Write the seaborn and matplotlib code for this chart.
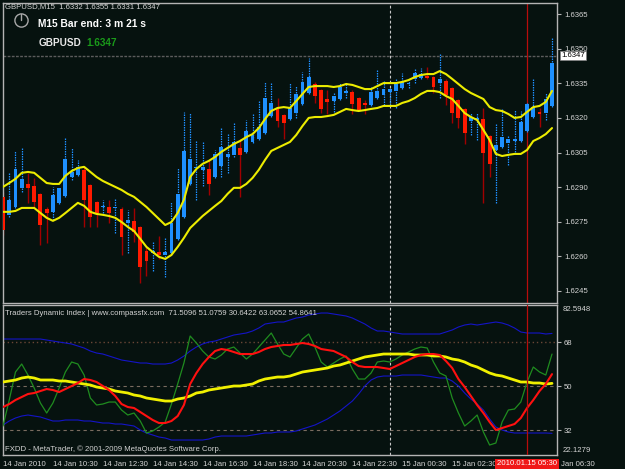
import numpy as np
import pandas as pd
import matplotlib
matplotlib.use("Agg")
import matplotlib.pyplot as plt
import matplotlib.transforms as mtransforms
from matplotlib.lines import Line2D
import seaborn as sns

# ---------------- data ----------------
opens = [1.62858, 1.62780, 1.62814, 1.62897, 1.62914, 1.62905, 1.62871, 1.62806, 1.62793, 1.62832,
         1.62862, 1.62944, 1.62953, 1.62975, 1.62910, 1.62836, 1.62812, 1.62814, 1.62808, 1.62806,
         1.62745, 1.62754, 1.62728, 1.62624, 1.62615, 1.62619, 1.62606, 1.62615, 1.62676, 1.62771,
         1.62914, 1.62981, 1.62975, 1.62979, 1.62944, 1.62992, 1.63031, 1.63040, 1.63070, 1.63053,
         1.63096, 1.63109, 1.63135, 1.63208, 1.63239, 1.63213, 1.63195, 1.63221, 1.63260, 1.63308,
         1.63347, 1.63321, 1.63282, 1.63273, 1.63282, 1.63308, 1.63312, 1.63286, 1.63265, 1.63256,
         1.63286, 1.63299, 1.63312, 1.63317, 1.63330, 1.63347, 1.63369, 1.63373, 1.63382, 1.63377,
         1.63351, 1.63360, 1.63330, 1.63278, 1.63239, 1.63187, 1.63191, 1.63195, 1.63122, 1.63061,
         1.63074, 1.63092, 1.63100, 1.63100, 1.63143, 1.63204, 1.63226, 1.63221, 1.63252]
highs = [1.62879, 1.62966, 1.63057, 1.63070, 1.62962, 1.62940, 1.62875, 1.62814, 1.62901, 1.62901,
         1.63117, 1.63070, 1.63018, 1.62988, 1.62914, 1.62840, 1.62845, 1.62845, 1.62853, 1.62814,
         1.62801, 1.62810, 1.62732, 1.62641, 1.62663, 1.62689, 1.62680, 1.62836, 1.62983, 1.63226,
         1.63221, 1.63104, 1.63096, 1.63018, 1.63061, 1.63156, 1.63135, 1.63178, 1.63109, 1.63191,
         1.63221, 1.63278, 1.63356, 1.63351, 1.63286, 1.63217, 1.63351, 1.63338, 1.63399, 1.63460,
         1.63356, 1.63325, 1.63321, 1.63312, 1.63351, 1.63351, 1.63321, 1.63291, 1.63278, 1.63334,
         1.63408, 1.63364, 1.63330, 1.63373, 1.63395, 1.63364, 1.63416, 1.63416, 1.63421, 1.63382,
         1.63481, 1.63369, 1.63334, 1.63282, 1.63243, 1.63221, 1.63221, 1.63243, 1.63126, 1.63178,
         1.63243, 1.63126, 1.63234, 1.63230, 1.63265, 1.63369, 1.63243, 1.63308, 1.63546]
lows = [1.62693, 1.62771, 1.62810, 1.62879, 1.62832, 1.62814, 1.62650, 1.62658, 1.62758, 1.62827,
        1.62858, 1.62931, 1.62949, 1.62728, 1.62728, 1.62728, 1.62788, 1.62745, 1.62702, 1.62606,
        1.62615, 1.62663, 1.62485, 1.62515, 1.62537, 1.62589, 1.62511, 1.62611, 1.62671, 1.62767,
        1.62910, 1.62845, 1.62905, 1.62866, 1.62940, 1.62944, 1.62962, 1.63031, 1.62858, 1.63048,
        1.63092, 1.63104, 1.63130, 1.63204, 1.63161, 1.63109, 1.63191, 1.63200, 1.63256, 1.63304,
        1.63265, 1.63221, 1.63217, 1.63226, 1.63278, 1.63286, 1.63217, 1.63230, 1.63217, 1.63252,
        1.63282, 1.63256, 1.63256, 1.63243, 1.63325, 1.63330, 1.63351, 1.63369, 1.63369, 1.63308,
        1.63286, 1.63256, 1.63178, 1.63156, 1.63087, 1.63126, 1.63104, 1.62832, 1.62944, 1.62832,
        1.63070, 1.62996, 1.63053, 1.63096, 1.63139, 1.63200, 1.63161, 1.63191, 1.63247]
closes = [1.62715, 1.62845, 1.62979, 1.62936, 1.62897, 1.62836, 1.62736, 1.62788, 1.62866, 1.62897,
          1.63022, 1.62966, 1.62988, 1.62845, 1.62771, 1.62788, 1.62819, 1.62788, 1.62812, 1.62684,
          1.62758, 1.62706, 1.62554, 1.62580, 1.62624, 1.62606, 1.62619, 1.62745, 1.62871, 1.63057,
          1.63022, 1.62988, 1.62988, 1.62914, 1.63044, 1.63074, 1.63044, 1.63096, 1.63040, 1.63143,
          1.63126, 1.63161, 1.63286, 1.63265, 1.63187, 1.63178, 1.63243, 1.63304, 1.63356, 1.63377,
          1.63295, 1.63239, 1.63269, 1.63295, 1.63334, 1.63317, 1.63260, 1.63234, 1.63258, 1.63312,
          1.63317, 1.63325, 1.63325, 1.63347, 1.63356, 1.63351, 1.63395, 1.63390, 1.63373, 1.63334,
          1.63369, 1.63299, 1.63221, 1.63200, 1.63135, 1.63204, 1.63200, 1.63048, 1.63001, 1.63083,
          1.63117, 1.63109, 1.63109, 1.63182, 1.63260, 1.63247, 1.63219, 1.63282, 1.63438]
band_upper = [1.62901, 1.62918, 1.62936, 1.62962, 1.62966, 1.62962, 1.62940, 1.62918, 1.62914, 1.62914,
              1.62949, 1.62970, 1.62983, 1.62988, 1.62966, 1.62944, 1.62927, 1.62914, 1.62901, 1.62888,
              1.62871, 1.62858, 1.62836, 1.62814, 1.62788, 1.62762, 1.62736, 1.62749, 1.62788, 1.62845,
              1.62944, 1.62979, 1.63001, 1.63014, 1.63031, 1.63053, 1.63070, 1.63087, 1.63100, 1.63117,
              1.63130, 1.63156, 1.63195, 1.63230, 1.63243, 1.63247, 1.63243, 1.63273, 1.63304, 1.63334,
              1.63338, 1.63338, 1.63338, 1.63334, 1.63338, 1.63347, 1.63343, 1.63334, 1.63325, 1.63325,
              1.63338, 1.63351, 1.63351, 1.63351, 1.63356, 1.63364, 1.63377, 1.63386, 1.63390, 1.63390,
              1.63403, 1.63390, 1.63369, 1.63347, 1.63325, 1.63308, 1.63295, 1.63282, 1.63247, 1.63234,
              1.63230, 1.63217, 1.63200, 1.63204, 1.63226, 1.63247, 1.63252, 1.63269, 1.63317]
band_lower = [1.62793, 1.62793, 1.62797, 1.62810, 1.62810, 1.62810, 1.62788, 1.62767, 1.62754, 1.62767,
              1.62788, 1.62810, 1.62832, 1.62819, 1.62793, 1.62784, 1.62780, 1.62775, 1.62767, 1.62749,
              1.62728, 1.62710, 1.62676, 1.62641, 1.62619, 1.62598, 1.62589, 1.62606, 1.62641, 1.62680,
              1.62723, 1.62749, 1.62775, 1.62797, 1.62819, 1.62840, 1.62871, 1.62897, 1.62897, 1.62914,
              1.62940, 1.62975, 1.63018, 1.63057, 1.63070, 1.63083, 1.63096, 1.63126, 1.63165, 1.63200,
              1.63204, 1.63204, 1.63208, 1.63213, 1.63226, 1.63239, 1.63234, 1.63230, 1.63234, 1.63239,
              1.63243, 1.63252, 1.63252, 1.63252, 1.63265, 1.63273, 1.63286, 1.63304, 1.63317, 1.63317,
              1.63312, 1.63295, 1.63282, 1.63252, 1.63221, 1.63204, 1.63191, 1.63148, 1.63104, 1.63044,
              1.63035, 1.63040, 1.63044, 1.63044, 1.63061, 1.63100, 1.63113, 1.63130, 1.63156]

tdi_upper = [69.23, 69.23, 69.23, 69.23, 69.23, 69.23, 69.23, 68.82, 68.41, 68.00,
             67.60, 67.19, 66.37, 65.55, 64.32, 63.50, 63.09, 62.28, 61.46, 60.64,
             60.23, 59.82, 59.41, 59.41, 59.00, 59.00, 59.00, 59.41, 60.64, 62.28,
             64.32, 65.96, 67.19, 68.00, 68.41, 69.23, 70.05, 70.87, 71.28, 71.69,
             72.51, 73.73, 75.37, 75.78, 76.19, 76.19, 77.01, 77.82, 78.23, 79.05,
             79.46, 79.87, 79.87, 79.46, 79.05, 78.64, 77.82, 76.60, 75.37, 73.73,
             72.51, 72.51, 72.10, 71.69, 71.28, 71.28, 71.28, 71.28, 71.28, 71.28,
             71.28, 72.10, 72.92, 74.14, 74.96, 75.37, 74.96, 75.37, 75.78, 76.19,
             75.78, 74.96, 73.73, 72.10, 71.69, 71.69, 71.69, 71.28, 71.51]
tdi_lower = [34.04, 35.68, 36.91, 37.72, 38.13, 37.72, 37.32, 36.50, 35.68, 35.68,
             36.09, 36.09, 36.09, 35.68, 35.68, 35.27, 34.86, 34.86, 34.45, 34.45,
             34.04, 33.63, 32.00, 30.77, 29.95, 29.13, 28.72, 27.90, 27.90, 27.90,
             27.90, 27.90, 27.90, 28.31, 29.13, 29.54, 29.54, 29.54, 29.54, 29.54,
             29.95, 30.36, 30.77, 30.77, 31.18, 31.18, 31.18, 31.59, 32.41, 33.22,
             34.04, 35.27, 36.50, 38.13, 39.77, 41.82, 43.86, 46.73, 50.00, 52.46,
             53.68, 54.09, 54.09, 54.09, 54.50, 54.50, 54.50, 54.50, 54.09, 53.68,
             53.27, 53.27, 52.05, 50.00, 47.14, 44.68, 42.63, 40.18, 36.50, 33.22,
             32.00, 31.18, 30.77, 30.77, 30.77, 30.77, 30.77, 30.77, 30.64]
tdi_rsi = [33.63, 44.27, 55.73, 59.00, 54.50, 49.18, 43.04, 38.95, 43.04, 49.18,
           55.73, 59.82, 59.00, 54.50, 45.09, 42.23, 42.63, 43.45, 43.45, 40.18,
           38.13, 38.95, 35.68, 30.77, 31.59, 33.22, 35.27, 42.63, 50.82, 59.41,
           70.46, 67.60, 64.32, 61.87, 61.05, 62.69, 65.14, 65.96, 63.50, 61.05,
           63.09, 65.96, 68.82, 71.69, 67.19, 63.09, 61.87, 65.55, 69.23, 71.28,
           65.96, 59.82, 57.77, 59.41, 61.05, 62.28, 56.96, 52.86, 52.86, 55.32,
           59.82, 60.23, 59.82, 61.05, 62.69, 63.91, 65.14, 65.96, 65.55, 59.82,
           55.32, 54.09, 45.09, 38.95, 33.63, 35.68, 38.13, 31.18, 25.86, 26.67,
           35.27, 40.18, 40.59, 43.45, 51.64, 57.77, 55.73, 54.50, 63.07]
tdi_signal = [41.41, 42.63, 44.27, 45.50, 46.73, 47.14, 47.95, 48.77, 48.36, 47.54,
              48.77, 50.00, 51.23, 52.86, 52.46, 51.64, 50.00, 48.36, 45.91, 42.63,
              41.41, 41.00, 39.36, 37.72, 36.09, 34.86, 34.86, 35.68, 37.72, 42.23,
              50.82, 55.32, 59.00, 61.87, 64.32, 65.14, 64.73, 63.91, 63.09, 63.09,
              63.09, 63.91, 65.14, 65.96, 66.37, 66.78, 66.78, 67.19, 67.60, 67.19,
              66.37, 65.14, 64.73, 64.32, 63.09, 61.87, 59.82, 58.18, 57.77, 57.77,
              57.77, 57.37, 56.96, 58.18, 59.41, 60.64, 61.87, 62.69, 63.09, 63.09,
              62.69, 60.23, 57.37, 52.86, 49.59, 45.91, 42.23, 38.95, 35.27, 32.00,
              32.81, 33.63, 34.45, 36.91, 41.00, 44.27, 47.95, 50.82, 54.86]
tdi_mid = [51.64, 52.05, 52.46, 53.27, 53.68, 53.27, 52.46, 52.46, 52.46, 52.05,
           52.05, 51.64, 51.23, 50.82, 50.41, 49.59, 49.18, 48.77, 47.95, 47.54,
           47.14, 46.32, 45.91, 45.09, 44.68, 44.27, 43.86, 43.86, 44.68, 45.09,
           45.91, 47.14, 47.54, 48.36, 48.77, 49.18, 49.59, 50.00, 50.00, 50.41,
           50.82, 52.05, 52.86, 53.27, 53.68, 53.68, 54.09, 54.91, 55.73, 56.14,
           56.55, 56.96, 57.37, 58.18, 58.59, 59.41, 60.23, 61.05, 61.87, 62.28,
           62.69, 63.09, 63.09, 63.09, 63.09, 63.09, 62.69, 62.69, 62.69, 62.28,
           62.28, 61.87, 61.05, 60.64, 59.82, 58.59, 57.77, 56.55, 55.32, 54.50,
           54.09, 53.27, 52.46, 51.64, 51.64, 51.23, 51.23, 50.82, 51.08]

# time-axis labels as they show (the 04:30 label and "15 " of the last one sit under the red box)
time_labels = ["14 Jan 2010", "14 Jan 10:30", "14 Jan 12:30", "14 Jan 14:30", "14 Jan 16:30",
               "14 Jan 18:30", "14 Jan 20:30", "14 Jan 22:30", "15 Jan 00:30", "15 Jan 02:30",
               "Jan 06:30"]
time_tick_bars = [0, 8, 16, 24, 32, 40, 48, 56, 64, 72, 88]
price_ticks = [1.6365, 1.6350, 1.6335, 1.6320, 1.6305, 1.6290, 1.6275, 1.6260, 1.6245]
level_ticks = [68, 50, 32]
tdi_max_label = 82.5948
tdi_min_label = 22.1279
bid_price = 1.6347
separator_bar = 62
marker_bar = 84
marker_label = "2010.01.15 05:30"
header_text = "GBPUSD,M15  1.6332 1.6355 1.6331 1.6347"
tdi_text = "Traders Dynamic Index | www.compassfx.com  71.5096 51.0759 30.6422 63.0652 54.8641"

# ---------------- style ----------------
BG = "#06120f"
TXT = "#d4d4d4"
sns.set_style("dark", {"axes.facecolor": BG, "figure.facecolor": BG})
plt.rcParams["font.family"] = ["Liberation Sans", "DejaVu Sans"]

W, H = 625, 469
fig = plt.figure(figsize=(6.25, 4.69), dpi=100, facecolor=BG)


def frac(x0, y0, x1, y1):
    return [x0 / W, 1 - y1 / H, (x1 - x0) / W, (y1 - y0) / H]


ax1 = fig.add_axes(frac(3, 3, 557, 303))
ax2 = fig.add_axes(frac(3, 305, 557, 455), sharex=ax1)
for ax in (ax1, ax2):
    ax.set_facecolor(BG)
    ax.grid(False)
    for s in ax.spines.values():
        s.set_color("#b4b4b4")
        s.set_linewidth(1.0)

bars = np.arange(len(opens))
o = np.array(opens); h = np.array(highs); l = np.array(lows); c = np.array(closes)
bull = c >= o

# ---------------- main panel ----------------
ax1.vlines(bars[bull], l[bull], h[bull], color="#1e90ff", lw=0.9,
           linestyles=(0, (1.2, 0.8)), zorder=2)
ax1.vlines(bars[~bull], l[~bull], h[~bull], color="#a00000", lw=1.0, zorder=2)
ax1.bar(bars[bull], c[bull] - o[bull], bottom=o[bull], width=0.62,
        color="#1e90ff", linewidth=0, zorder=3)
ax1.bar(bars[~bull], o[~bull] - c[~bull], bottom=c[~bull], width=0.62,
        color="#ff1a00", linewidth=0, zorder=3)

sns.lineplot(x=bars, y=band_upper, ax=ax1, color="#ecec00", linewidth=1.5, zorder=4)
sns.lineplot(x=bars, y=band_lower, ax=ax1, color="#ecec00", linewidth=1.5, zorder=4)

ax1.axhline(bid_price, color="#5c5c5c", lw=1.0, ls=(0, (2, 1)), zorder=1)
ax1.axvline(separator_bar, color="#c8c8c8", lw=0.8, ls=(0, (2.5, 2)), zorder=1)
ax1.axvline(marker_bar, color="#b80c0c", lw=0.9, zorder=1)

ax1.set_xlim(0.16, 88.8)
ax1.set_ylim(1.62398, 1.63698)
ax1.yaxis.tick_right()
ax1.set_yticks(price_ticks)
ax1.set_yticklabels([f"{p:.4f}" for p in price_ticks])
ax1.tick_params(axis="y", colors="#b4b4b4", labelcolor=TXT, labelsize=5.6,
                length=3, width=0.8, direction="out", pad=2, left=False, right=True)
ax1.tick_params(axis="x", bottom=False, labelbottom=False)
ax1.set_xlabel(""); ax1.set_ylabel("")

trans1 = mtransforms.blended_transform_factory(ax1.transAxes, ax1.transData)
ax1.text(1.008, bid_price, f"{bid_price:.4f}", transform=trans1, ha="left", va="center",
         fontsize=5.6, color="black", clip_on=False, zorder=10,
         bbox=dict(boxstyle="square,pad=0.15", fc="white", ec="#808080", lw=0.5))

# ---------------- indicator panel ----------------
sns.lineplot(x=bars, y=tdi_upper, ax=ax2, color="#1414c8", linewidth=0.8, zorder=2)
sns.lineplot(x=bars, y=tdi_lower, ax=ax2, color="#1414c8", linewidth=0.8, zorder=2)
sns.lineplot(x=bars, y=tdi_rsi, ax=ax2, color="#1f8c1f", linewidth=0.9, zorder=3)
sns.lineplot(x=bars, y=tdi_mid, ax=ax2, color="#f0f000", linewidth=2.0, zorder=4)
sns.lineplot(x=bars, y=tdi_signal, ax=ax2, color="#ff1010", linewidth=1.5, zorder=5)

ax2.axhline(level_ticks[0], color="#6a4636", lw=1.0, ls=(0, (1, 2)), zorder=1)
for lv in level_ticks[1:]:
    ax2.axhline(lv, color="#7a6c60", lw=0.8, ls=(0, (3, 3)), zorder=1)
ax2.axvline(separator_bar, color="#c8c8c8", lw=0.8, ls=(0, (2.5, 2)), zorder=1)
ax2.axvline(marker_bar, color="#b80c0c", lw=0.9, zorder=6)

ax2.set_ylim(21.77, 83.15)
ax2.yaxis.tick_right()
ax2.set_yticks(level_ticks)
ax2.set_yticklabels([str(v) for v in level_ticks])
ax2.tick_params(axis="y", colors="#b4b4b4", labelcolor=TXT, labelsize=5.6,
                length=3, width=0.8, direction="out", pad=2, left=False, right=True)
ax2.set_xticks(time_tick_bars)
ax2.set_xticklabels(time_labels, ha="left")
ax2.tick_params(axis="x", colors="#b4b4b4", labelcolor=TXT, labelsize=5.6,
                length=3, width=0.8, direction="out", pad=1.5)
# last label starts just right of the red time box
last_lbl = ax2.get_xticklabels()[-1]
last_lbl.set_transform(last_lbl.get_transform() +
                       mtransforms.ScaledTranslation(9 / 100, 0, fig.dpi_scale_trans))
ax2.set_xlabel(""); ax2.set_ylabel("")

trans2 = mtransforms.blended_transform_factory(ax2.transAxes, ax2.transData)
ax2.text(1.01, tdi_max_label, f"{tdi_max_label:.4f}", transform=trans2, ha="left", va="top",
         fontsize=5.6, color=TXT, clip_on=False)
ax2.text(1.01, tdi_min_label, f"{tdi_min_label:.4f}", transform=trans2, ha="left", va="bottom",
         fontsize=5.6, color=TXT, clip_on=False)

transx = mtransforms.blended_transform_factory(ax2.transData, ax2.transAxes)
ax2.text(marker_bar, -0.035, marker_label, transform=transx, ha="center", va="top",
         fontsize=5.6, color="white", clip_on=False, zorder=20,
         bbox=dict(boxstyle="square,pad=0.2", fc="#f01818", ec="none"))

# ---------------- header texts ----------------
def px(x, y):
    return x / W, 1 - y / H

fig.text(*px(5, 7), header_text, fontsize=5.6, color=TXT, va="center", ha="left")
fig.add_artist(Line2D([px(21, 20)[0]], [px(21, 20)[1]], marker="o", markersize=9.5,
                      mfc="none", mec="#a8a8a8", mew=1.0, transform=fig.transFigure))
fig.add_artist(Line2D([px(21, 14)[0], px(21, 20)[0]], [px(21, 14)[1], px(21, 20)[1]],
                      color="#a8a8a8", lw=1.0, transform=fig.transFigure))
fig.text(*px(38, 24), "M15 Bar end: 3 m 21 s", fontsize=7.4, fontweight="bold",
         color="white", va="center", ha="left")
fig.text(*px(39, 43), "GBPUSD", fontsize=7.2, fontweight="bold", color="#e8e8e8",
         va="center", ha="left")
fig.text(*px(86, 43), "1.6347", fontsize=7.2, fontweight="bold", color="#1a9a1a",
         va="center", ha="left")
fig.text(*px(5, 313), tdi_text, fontsize=5.6, color=TXT, va="center", ha="left")
fig.text(*px(5, 449), "FXDD - MetaTrader, \u00a9 2001-2009 MetaQuotes Software Corp.",
         fontsize=5.6, color=TXT, va="center", ha="left")

fig.savefig("out.png", dpi=100, facecolor=BG)
